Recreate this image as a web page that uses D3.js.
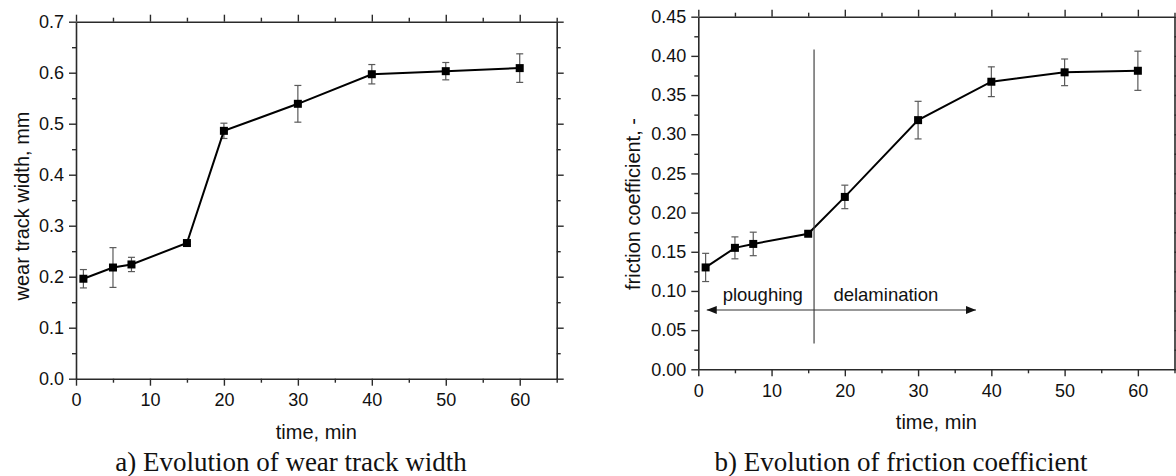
<!DOCTYPE html>
<html>
<head>
<meta charset="utf-8">
<script src="https://cdn.jsdelivr.net/npm/d3@7"></script>
<style>
  html, body { margin: 0; padding: 0; background: #fff; }
  svg { display: block; }
  text { font-family: "Liberation Sans", Arial, sans-serif; fill: #111; }
  .caption { font-family: "Liberation Serif", "Times New Roman", serif; }
</style>
</head>
<body>
<svg id="chart" width="1176" height="476"></svg>
<script>
// Sliding time of each measurement, minutes
const times = [1, 5, 7.5, 15, 20, 30, 40, 50, 60];

// a) wear track width, mm (mean and half-range of scatter)
const widthMean = [0.196, 0.218, 0.224, 0.266, 0.486, 0.539, 0.597, 0.603, 0.609];
const widthErr  = [0.018, 0.039, 0.014, 0.003, 0.015, 0.036, 0.019, 0.017, 0.028];

// b) friction coefficient (mean and half-range of scatter)
const frictionMean = [0.130, 0.155, 0.160, 0.173, 0.220, 0.318, 0.367, 0.379, 0.381];
const frictionErr  = [0.018, 0.014, 0.015, 0.002, 0.015, 0.024, 0.019, 0.017, 0.025];

// Axis ticks
const xMajor = [0, 10, 20, 30, 40, 50, 60];
const xMinor = [5, 15, 25, 35, 45, 55, 65];
const widthMajor = [0, 0.1, 0.2, 0.3, 0.4, 0.5, 0.6, 0.7];
const widthMinor = [0.05, 0.15, 0.25, 0.35, 0.45, 0.55, 0.65];
const frictionMajor = [0, 0.05, 0.10, 0.15, 0.20, 0.25, 0.30, 0.35, 0.40, 0.45];
const frictionMinor = [0.025, 0.075, 0.125, 0.175, 0.225, 0.275, 0.325, 0.375, 0.425];

// Wear-regime annotation on the friction plot
const regimeBoundary = 15.8;            // min
const boundarySpan = [0.033, 0.408];    // friction-axis extent of the divider
const regimeArrow = { from: 1.15, to: 37.9, level: 0.0757 };
const regimeLabels = [
  { text: "ploughing", t: 8.8, level: 0.087 },
  { text: "delamination", t: 25.6, level: 0.087 }
];

const svg = d3.select("#chart");

// arrowhead used by the regime arrow
const defs = svg.append("defs");
defs.append("marker")
  .attr("id", "head")
  .attr("viewBox", "0 0 10 8")
  .attr("refX", 10).attr("refY", 4)
  .attr("markerWidth", 10).attr("markerHeight", 8)
  .attr("markerUnits", "userSpaceOnUse")
  .attr("orient", "auto-start-reverse")
  .append("path").attr("d", "M0,0 L10,4 L0,8 Z").attr("fill", "#111");

function panel(opts) {
  const x = d3.scaleLinear().domain([0, 65]).range(opts.xRange);
  const y = d3.scaleLinear().domain(opts.yDomain).range(opts.yRange);
  const g = svg.append("g");
  const axisColor = "#2a2a2a";
  const majorLen = 7, minorLen = 4;

  function styleAxis(sel) {
    sel.select(".domain").attr("stroke", axisColor).attr("stroke-width", 1.6);
    sel.selectAll(".tick line").attr("stroke", axisColor).attr("stroke-width", 1.4);
    sel.selectAll(".tick text").attr("font-size", 18).attr("fill", "#111")
      .attr("font-family", "Liberation Sans, Arial, sans-serif");
  }

  // bottom axis
  const xb = g.append("g").attr("transform", `translate(0,${opts.yRange[0]})`);
  xb.call(d3.axisBottom(x).tickValues(xMajor).tickSize(majorLen).tickPadding(8)
    .tickFormat(d3.format("d")).tickSizeOuter(0)).call(styleAxis);
  xb.append("g").call(d3.axisBottom(x).tickValues(xMinor).tickSize(minorLen).tickFormat(""))
    .call(s => s.select(".domain").remove()).call(styleAxis);

  // top axis (mirrored ticks, no labels)
  const xt = g.append("g").attr("transform", `translate(0,${opts.yRange[1]})`);
  xt.call(d3.axisTop(x).tickValues(xMajor).tickSize(majorLen).tickFormat("").tickSizeOuter(0)).call(styleAxis);
  xt.append("g").call(d3.axisTop(x).tickValues(xMinor).tickSize(minorLen).tickFormat(""))
    .call(s => s.select(".domain").remove()).call(styleAxis);

  // left axis
  const yl = g.append("g").attr("transform", `translate(${opts.xRange[0]},0)`);
  yl.call(d3.axisLeft(y).tickValues(opts.yMajor).tickSize(majorLen).tickPadding(5)
    .tickFormat(d3.format(opts.fmt)).tickSizeOuter(0)).call(styleAxis);
  yl.append("g").call(d3.axisLeft(y).tickValues(opts.yMinor).tickSize(minorLen).tickFormat(""))
    .call(s => s.select(".domain").remove()).call(styleAxis);

  // right axis (mirrored ticks, no labels)
  const yr = g.append("g").attr("transform", `translate(${opts.xRange[1]},0)`);
  yr.call(d3.axisRight(y).tickValues(opts.yMajor).tickSize(majorLen).tickFormat("").tickSizeOuter(0)).call(styleAxis);
  yr.append("g").call(d3.axisRight(y).tickValues(opts.yMinor).tickSize(minorLen).tickFormat(""))
    .call(s => s.select(".domain").remove()).call(styleAxis);

  // axis titles
  const cx = (opts.xRange[0] + opts.xRange[1]) / 2;
  g.append("text").attr("x", cx).attr("y", opts.yRange[0] + opts.xTitleOffset)
    .attr("text-anchor", "middle").attr("font-size", 20).text("time, min");
  g.append("text")
    .attr("transform", `translate(${opts.yTitleX},${opts.yTitleY}) rotate(-90)`)
    .attr("text-anchor", "middle").attr("font-size", 20).text(opts.yTitle);

  // caption below the panel
  g.append("text").attr("class", "caption")
    .attr("x", opts.captionX).attr("y", opts.captionY)
    .attr("text-anchor", "middle").attr("font-size", 27)
    .attr("font-family", "Liberation Serif, Times New Roman, serif")
    .text(opts.caption);

  const pts = times.map((t, i) => ({ t, v: opts.mean[i], e: opts.err[i] }));

  // error bars
  const eb = g.append("g").attr("stroke", "#5a5a5a").attr("stroke-width", 1.2);
  eb.selectAll("line.v").data(pts).join("line").attr("class", "v")
    .attr("x1", d => x(d.t)).attr("x2", d => x(d.t))
    .attr("y1", d => y(d.v - d.e)).attr("y2", d => y(d.v + d.e));
  [1, -1].forEach(s => {
    eb.selectAll(`line.c${s > 0 ? "p" : "m"}`).data(pts).join("line")
      .attr("class", `c${s > 0 ? "p" : "m"}`)
      .attr("x1", d => x(d.t) - 3.5).attr("x2", d => x(d.t) + 3.5)
      .attr("y1", d => y(d.v + s * d.e)).attr("y2", d => y(d.v + s * d.e));
  });

  // connecting line
  g.append("path").datum(pts)
    .attr("fill", "none").attr("stroke", "#000").attr("stroke-width", 2)
    .attr("d", d3.line().x(d => x(d.t)).y(d => y(d.v)));

  // square markers
  const m = 8;
  g.selectAll("rect.pt").data(pts).join("rect").attr("class", "pt")
    .attr("x", d => x(d.t) - m / 2).attr("y", d => y(d.v) - m / 2)
    .attr("width", m).attr("height", m).attr("fill", "#000");

  return { g, x, y };
}

// a) wear track width
panel({
  xRange: [76, 556.7], yRange: [378.7, 21.7], yDomain: [0, 0.7],
  yMajor: widthMajor, yMinor: widthMinor, fmt: ".1f",
  mean: widthMean, err: widthErr,
  yTitle: "wear track width, mm", yTitleX: 29, yTitleY: 206,
  xTitleOffset: 60,
  caption: "a) Evolution of wear track width", captionX: 291, captionY: 471
});

// b) friction coefficient
const b = panel({
  xRange: [698.3, 1174.5], yRange: [369.3, 16.7], yDomain: [0, 0.45],
  yMajor: frictionMajor, yMinor: frictionMinor, fmt: ".2f",
  mean: frictionMean, err: frictionErr,
  yTitle: "friction coefficient, -", yTitleX: 640, yTitleY: 204,
  xTitleOffset: 60,
  caption: "b) Evolution of friction coefficient", captionX: 901, captionY: 471
});

// regime divider and arrow
b.g.append("line")
  .attr("x1", b.x(regimeBoundary)).attr("x2", b.x(regimeBoundary))
  .attr("y1", b.y(boundarySpan[0])).attr("y2", b.y(boundarySpan[1]))
  .attr("stroke", "#444").attr("stroke-width", 1.2);
b.g.append("line")
  .attr("x1", b.x(regimeArrow.from)).attr("x2", b.x(regimeArrow.to))
  .attr("y1", b.y(regimeArrow.level)).attr("y2", b.y(regimeArrow.level))
  .attr("stroke", "#333").attr("stroke-width", 1.2)
  .attr("marker-start", "url(#head)").attr("marker-end", "url(#head)");
b.g.selectAll("text.regime").data(regimeLabels).join("text").attr("class", "regime")
  .attr("x", d => b.x(d.t)).attr("y", d => b.y(d.level))
  .attr("text-anchor", "middle").attr("font-size", 18.5).text(d => d.text);
</script>
</body>
</html>
